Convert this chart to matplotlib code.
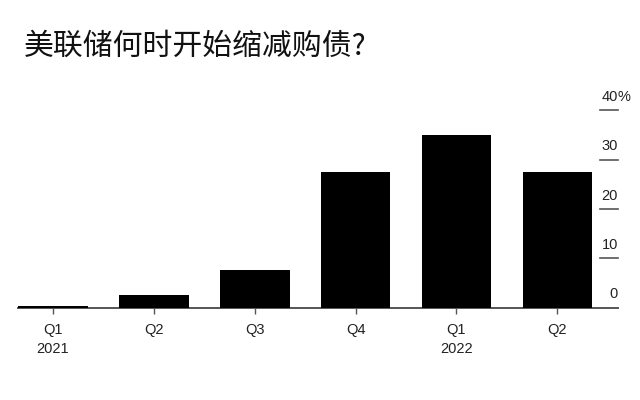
import matplotlib.pyplot as plt
import matplotlib.transforms as mtransforms

# 数据
quarters = ['Q1', 'Q2', 'Q3', 'Q4', 'Q1', 'Q2']
years = ['2021', '', '', '', '2022', '']
values = [0.25, 2.6, 7.6, 27.5, 35.0, 27.5]
y_ticks = [0, 10, 20, 30, 40]

plt.rcParams['font.family'] = ['Liberation Sans', 'DejaVu Sans']

fig = plt.figure(figsize=(6.4, 4.0), dpi=100)
ax = fig.add_axes([0.028, 0.2308, 0.9375, 0.4932])

x = list(range(len(values)))
ax.bar(x, values, width=0.69, color='black', zorder=2)

ax.set_xlim(-0.347, 5.6)
ax.set_ylim(0, 40)

for s in ['top', 'left', 'right']:
    ax.spines[s].set_visible(False)
ax.spines['bottom'].set_color('#555555')
ax.spines['bottom'].set_linewidth(1.4)
ax.spines['bottom'].set_zorder(1)

ax.set_xticks(x)
ax.set_xticklabels([q + '\n' + y if y else q for q, y in zip(quarters, years)],
                   fontsize=10.5, color='#222222', linespacing=1.5, va='top')
ax.tick_params(axis='x', length=4, width=1, color='#555555', pad=7)
ax.set_yticks([])

# 右侧短刻度线和数值
trans = mtransforms.blended_transform_factory(ax.transAxes, ax.transData)
for v in y_ticks:
    if v > 0:
        ax.plot([0.97, 1.0], [v, v], transform=trans, color='#555555', lw=1.2,
                clip_on=False)
    ax.text(1.0, v + 1.3, str(v), transform=trans, ha='right', va='bottom',
            fontsize=10.5, color='#222222')
ax.text(1.0, 40 + 1.3, '%', transform=trans, ha='left', va='bottom',
        fontsize=10.5, color='#222222')

fig.text(0.037, 0.885, '美联储何时开始缩减购债?', fontsize=21.5,
         family=['Noto Sans CJK SC', 'DejaVu Sans'], color='#111111',
         ha='left', va='center')

fig.savefig('out.png', dpi=100)
